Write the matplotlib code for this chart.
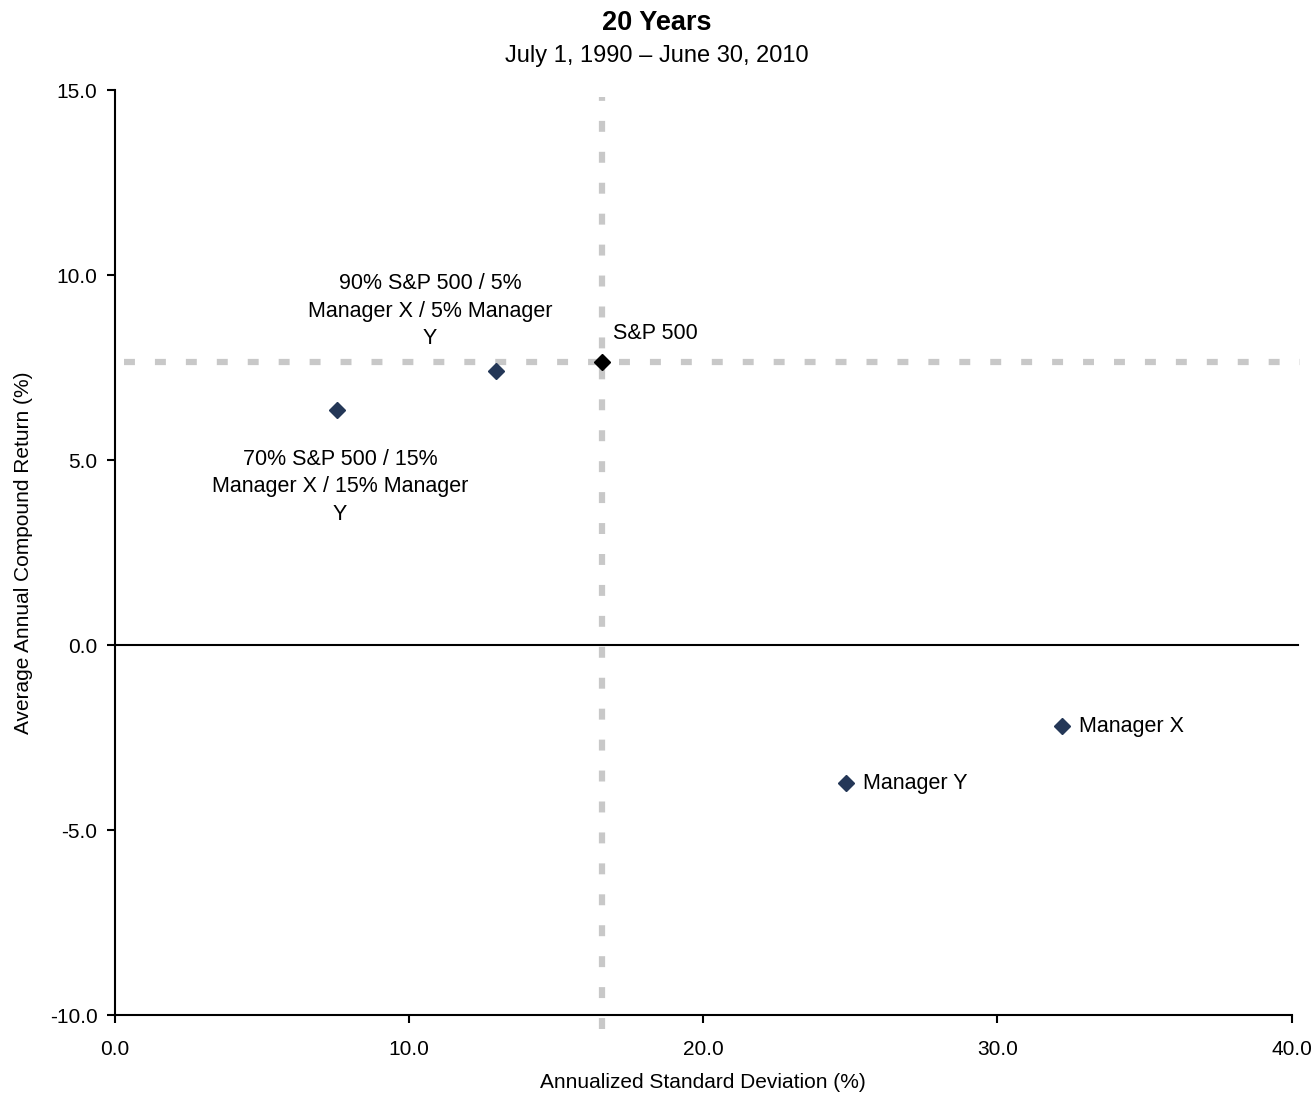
import matplotlib
matplotlib.use("Agg")
import matplotlib.pyplot as plt

plt.rcParams['font.family'] = ['Liberation Sans', 'DejaVu Sans']

# risk / return per portfolio
names = ["S&P 500",
         "90% S&P 500 / 5%\nManager X / 5% Manager\nY",
         "70% S&P 500 / 15%\nManager X / 15% Manager\nY",
         "Manager Y",
         "Manager X"]
std_dev = [16.55, 12.95, 7.55, 24.85, 32.2]
returns = [7.65, 7.4, 6.35, -3.73, -2.2]
colors = ["#000000", "#243757", "#243757", "#243757", "#243757"]

# label offsets in points and alignment
offsets = [(8, 13), (-47.5, 16), (2, -28), (12, 0), (12, 0)]
aligns = [("left", "bottom"), ("center", "bottom"), ("center", "top"),
          ("left", "center"), ("left", "center")]

fig = plt.figure(figsize=(13.14, 10.94), dpi=100)
ax = fig.add_axes([0.0875, 0.0722, 0.8955, 0.8455])

ax.set_xlim(0, 40)
ax.set_ylim(-10, 15)

# benchmark crosshair
bx, by = std_dev[0], returns[0]
ax.axvline(bx, ymin=-0.015, ymax=0.993, color="#c8c8c8", lw=4.5,
           dashes=(1.75, 3.2), clip_on=False, zorder=1)
ax.axhline(by, xmin=0.008, xmax=1.007, color="#c8c8c8", lw=4.5,
           dashes=(1.75, 3.2), clip_on=False, zorder=1)
ax.axhline(0, xmax=1.005, color="black", lw=1.5, clip_on=False, zorder=2)

for x, y, c, n, off, al in zip(std_dev, returns, colors, names, offsets, aligns):
    ax.plot(x, y, marker="D", ms=8, color=c, ls="none", zorder=3)
    ax.annotate(n, (x, y), xytext=off, textcoords="offset points",
                ha=al[0], va=al[1], fontsize=15.5, linespacing=1.4,
                multialignment="center")

ax.spines["top"].set_visible(False)
ax.spines["right"].set_visible(False)
ax.spines["left"].set_linewidth(1.5)
ax.spines["bottom"].set_linewidth(1.5)

ax.set_xticks([0, 10, 20, 30, 40])
ax.set_yticks([-10, -5, 0, 5, 10, 15])
ax.xaxis.set_major_formatter(matplotlib.ticker.FormatStrFormatter("%.1f"))
ax.yaxis.set_major_formatter(matplotlib.ticker.FormatStrFormatter("%.1f"))
ax.tick_params(labelsize=15, width=1.5, length=6, direction="out")
ax.tick_params(axis="x", pad=12)
ax.tick_params(axis="y", pad=6.5)

ax.set_xlabel("Annualized Standard Deviation (%)", fontsize=15, labelpad=10)
ax.set_ylabel("Average Annual Compound Return (%)", fontsize=15, labelpad=12)

fig.text(0.5, 0.979, "20 Years", ha="center", va="center",
         fontsize=19.5, fontweight="bold")
fig.text(0.5, 0.949, "July 1, 1990 \u2013 June 30, 2010", ha="center",
         va="center", fontsize=17)

fig.savefig("out.png", dpi=100)
